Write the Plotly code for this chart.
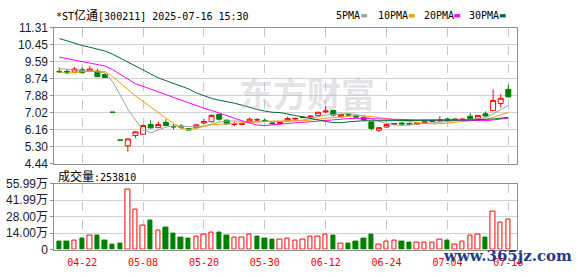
import plotly.graph_objects as go

# ---------------- data ----------------
dates = ["04-17","04-18","04-21","04-22","04-23","04-24","04-28","04-29","04-30","05-06",
         "05-07","05-08","05-09","05-12","05-13","05-14","05-15","05-16","05-19","05-20",
         "05-21","05-22","05-23","05-26","05-27","05-28","05-29","05-30","06-03","06-04",
         "06-05","06-06","06-09","06-10","06-11","06-12","06-13","06-16","06-17","06-18",
         "06-19","06-20","06-23","06-24","06-25","06-26","06-27","06-30","07-01","07-02",
         "07-03","07-04","07-07","07-08","07-09","07-10","07-11","07-14","07-15","07-16"]

open_ = [9.11, 9.11, 9.07, 9.19, 9.12, 9.12, 8.95, 7.04, 5.63, 5.34,
         5.86, 5.93, 6.42, 6.26, 6.53, 6.33, 6.34, 6.21, 6.26, 6.50,
         6.56, 6.93, 6.64, 6.42, 6.42, 6.56, 6.65, 6.63, 6.50, 6.47,
         6.60, 6.70, 6.80, 6.80, 6.88, 7.06, 7.13, 6.81, 6.93, 6.86,
         6.78, 6.55, 6.13, 6.29, 6.42, 6.50, 6.48, 6.44, 6.50, 6.62,
         6.60, 6.70, 6.70, 6.64, 6.84, 6.73, 6.96, 7.12, 7.48, 8.20]
high = [9.31, 9.23, 9.34, 9.32, 9.38, 9.24, 9.01, 7.04, 5.63, 5.70,
        6.08, 6.42, 6.64, 6.56, 6.69, 6.45, 6.45, 6.23, 6.46, 6.70,
        6.93, 6.95, 6.66, 6.55, 6.50, 6.77, 6.74, 6.72, 6.52, 6.55,
        6.82, 6.76, 6.83, 6.88, 7.06, 7.35, 7.15, 6.95, 6.97, 6.88,
        6.80, 6.57, 6.28, 6.44, 6.50, 6.56, 6.50, 6.52, 6.58, 6.66,
        6.84, 6.76, 6.72, 6.72, 6.99, 6.90, 7.08, 8.20, 7.96, 8.44]
low = [9.02, 8.99, 9.06, 9.00, 9.10, 8.82, 8.78, 7.04, 5.63, 5.05,
       5.74, 5.90, 6.22, 6.26, 6.35, 6.18, 6.20, 6.12, 6.24, 6.45,
       6.54, 6.61, 6.43, 6.33, 6.38, 6.54, 6.62, 6.57, 6.44, 6.45,
       6.58, 6.66, 6.74, 6.78, 6.83, 6.98, 6.83, 6.79, 6.86, 6.70,
       6.58, 6.12, 6.04, 6.26, 6.38, 6.43, 6.36, 6.42, 6.48, 6.55,
       6.56, 6.60, 6.62, 6.62, 6.70, 6.72, 6.83, 7.10, 7.27, 7.78]
close = [9.09, 9.08, 9.23, 9.04, 9.23, 8.84, 8.80, 7.04, 5.63, 5.69,
         6.05, 6.37, 6.25, 6.42, 6.37, 6.30, 6.29, 6.14, 6.40, 6.57,
         6.88, 6.69, 6.45, 6.46, 6.48, 6.69, 6.66, 6.58, 6.46, 6.53,
         6.72, 6.73, 6.77, 6.84, 7.04, 7.10, 6.90, 6.93, 6.90, 6.80,
         6.66, 6.22, 6.26, 6.42, 6.47, 6.45, 6.42, 6.50, 6.56, 6.58,
         6.66, 6.64, 6.66, 6.69, 6.72, 6.88, 6.85, 7.64, 7.75, 7.82]

# volume in 万 (10k)
volume = [6.6, 6.6, 7.4, 9.3, 12.2, 11.7, 7.7, 4.4, 5.2, 50.9,
          34.0, 20.3, 24.6, 16.3, 18.9, 13.3, 10.1, 9.3, 10.9, 12.5,
          14.7, 14.1, 11.7, 10.1, 10.1, 12.5, 10.9, 9.3, 8.5, 8.5,
          9.3, 7.4, 8.5, 10.9, 10.9, 13.0, 11.7, 5.0, 5.0, 6.8,
          9.3, 12.5, 4.4, 6.8, 7.4, 6.8, 6.0, 6.0, 6.0, 6.0,
          8.5, 7.7, 4.4, 6.6, 12.2, 13.0, 10.1, 32.6, 22.7, 25.381]

# moving-average values for days whose window starts before the view
ma5_head = [9.25, 9.22, 9.20, 9.17]
ma10_head = [9.08, 9.00, 9.06, 9.10, 9.12, 9.13, 9.10, 8.85, 8.51]
ma20_head = [9.83, 9.76, 9.68, 9.61, 9.53, 9.46, 9.38, 9.20, 8.95, 8.70,
             8.48, 8.35, 8.21, 8.07, 7.93, 7.79, 7.65, 7.50, 7.37]
ma30_head = [10.77, 10.65, 10.52, 10.42, 10.33, 10.24, 10.14, 9.98, 9.78, 9.56,
             9.36, 9.15, 8.95, 8.78, 8.64, 8.50, 8.38, 8.22, 8.02, 7.86,
             7.74, 7.65, 7.58, 7.50, 7.40, 7.28, 7.18, 7.10, 7.04]

price_ticks = [4.44, 5.30, 6.16, 7.02, 7.88, 8.74, 9.59, 10.45, 11.31]
vol_ticks = [0, 14.00, 28.00, 41.99, 55.99]
date_ticks = ["04-22", "05-08", "05-20", "05-30", "06-12", "06-24", "07-04", "07-16"]
title_text = "*ST亿通[300211] 2025-07-16 15:30"
ma_labels = ["5PMA", "10PMA", "20PMA", "30PMA"]

# ---------------- styles ----------------
W, H = 578, 276
RED = "#ff0000"
GREEN = "#008000"
MA_COLORS = ["#a0a0a0", "#f0a000", "#ff00ff", "#006b3c"]
GRID = "#d2d2d2"
FRAME = "#909090"
LABEL = "#1a1a2a"
MONO = "DejaVu Sans Mono, Liberation Mono, monospace"
SANS = "Liberation Sans, Arial, sans-serif"
CJK = "Noto Sans CJK SC"


def px(x):
    return x / W


def py(y):
    return 1 - y / H


def moving_average(n, head):
    vals = list(head)
    for i in range(n - 1, len(close)):
        window = close[i - n + 1:i + 1]
        vals.append(sum(window) / n)
    return vals


mas = [moving_average(5, ma5_head), moving_average(10, ma10_head),
       moving_average(20, ma20_head), moving_average(30, ma30_head)]

# volume colour: red if close >= previous close
vol_colors, vol_fill = [], []
for i in range(len(close)):
    if i == 0:
        up = close[i] >= open_[i]
    else:
        up = close[i] >= close[i - 1]
    vol_colors.append(RED if up else GREEN)
    vol_fill.append("white" if up else GREEN)

fig = go.Figure()

for k, ma in enumerate(mas):
    fig.add_trace(go.Scatter(x=dates, y=ma, mode="lines",
                             line=dict(color=MA_COLORS[k], width=1),
                             xaxis="x", yaxis="y", hoverinfo="skip", showlegend=False))

fig.add_trace(go.Candlestick(
    x=dates, open=open_, high=high, low=low, close=close,
    increasing=dict(line=dict(color=RED, width=1), fillcolor="white"),
    decreasing=dict(line=dict(color=GREEN, width=1), fillcolor=GREEN),
    whiskerwidth=0, xaxis="x", yaxis="y", hoverinfo="skip", showlegend=False))

fig.add_trace(go.Bar(
    x=dates, y=volume, width=0.58,
    marker=dict(color=vol_fill, line=dict(color=vol_colors, width=1)),
    xaxis="x2", yaxis="y2", hoverinfo="skip", showlegend=False))

xdom = [px(55), px(522.5)]
xrange_ = [-0.646, len(dates) - 1 + 1.15]

common_x = dict(type="category", categoryorder="array", categoryarray=dates,
                range=xrange_, domain=xdom, tickmode="array", tickvals=date_ticks,
                showgrid=True, gridcolor="#c8c8c8", griddash="dash", gridwidth=1,
                showline=True, linecolor=FRAME, linewidth=1, mirror=True,
                zeroline=False, fixedrange=True)

fig.update_layout(
    width=W, height=H,
    margin=dict(l=0, r=0, t=0, b=0),
    paper_bgcolor="white", plot_bgcolor="white",
    boxgap=0.35, boxgroupgap=0, bargap=0,
    xaxis=dict(**common_x, anchor="y", showticklabels=False, ticks="",
               rangeslider=dict(visible=False)),
    yaxis=dict(domain=[py(165), py(22)], range=[price_ticks[0], price_ticks[-1]],
               tickmode="array", tickvals=price_ticks,
               ticktext=["%.2f" % v for v in price_ticks],
               tickfont=dict(family=SANS, size=12, color=LABEL),
               ticks="outside", ticklen=3, tickcolor=FRAME,
               showgrid=True, gridcolor=GRID, gridwidth=1,
               showline=True, linecolor=FRAME, linewidth=1, mirror=True,
               zeroline=False, fixedrange=True, anchor="x"),
    xaxis2=dict(**common_x, anchor="y2", showticklabels=True, ticks="",
                tickfont=dict(family=MONO, size=10, color=RED),
                ticklabelstandoff=3),
    yaxis2=dict(domain=[py(255.5), py(186)], range=[0, vol_ticks[-1]],
                tickmode="array", tickvals=vol_ticks,
                ticktext=["0" if v == 0 else "%.2f万" % v for v in vol_ticks],
                tickfont=dict(family=SANS + ", " + CJK, size=12, color=LABEL),
                ticks="outside", ticklen=3, tickcolor=FRAME,
                showgrid=True, gridcolor=GRID, gridwidth=1,
                showline=True, linecolor=FRAME, linewidth=1, mirror=True,
                zeroline=False, fixedrange=True, anchor="x2"),
)

annotations = []
# title
annotations.append(dict(
    text=title_text.replace("亿通", '<span style="font-size:12px">亿通</span>'),
    x=px(55), y=py(9), xref="paper", yref="paper", xanchor="left", yanchor="middle",
    showarrow=False, font=dict(family=MONO + ", " + CJK, size=10, color="#000000")))

# MA legend
legend_text_x = [338, 380, 426, 472]
legend_key_x = [365, 413, 459, 505]
shapes = []
for k, lab in enumerate(ma_labels):
    annotations.append(dict(text=lab, x=px(legend_text_x[k]), y=py(9), xref="paper", yref="paper",
                            xanchor="left", yanchor="middle", showarrow=False,
                            font=dict(family=MONO, size=10, color="#000000")))
    shapes.append(dict(type="rect", xref="paper", yref="paper",
                       x0=px(legend_key_x[k]), x1=px(legend_key_x[k] + 6),
                       y0=py(11), y1=py(7.5), fillcolor=MA_COLORS[k], line=dict(width=0)))

# volume caption
annotations.append(dict(
    text='<span style="font-family:Noto Sans CJK SC;font-size:12px">成交量</span>:%d' % round(volume[-1] * 10000),
    x=px(57), y=py(177), xref="paper", yref="paper", xanchor="left", yanchor="middle",
    showarrow=False, font=dict(family=MONO, size=10, color="#000000")))

# watermark
annotations.append(dict(text="东方财富", x=px(310), y=py(90), xref="paper", yref="paper",
                        xanchor="center", yanchor="middle", showarrow=False,
                        font=dict(family=CJK, size=34, color="rgba(185,185,195,0.4)", weight="bold")))
annotations.append(dict(text="www.365jz.com", x=px(513), y=py(262), xref="paper", yref="paper",
                        xanchor="center", yanchor="middle", showarrow=False,
                        font=dict(family="DejaVu Serif", size=15, color="#1f3c88", weight="bold")))

fig.update_layout(annotations=annotations, shapes=shapes)

fig.write_html("out.html")
